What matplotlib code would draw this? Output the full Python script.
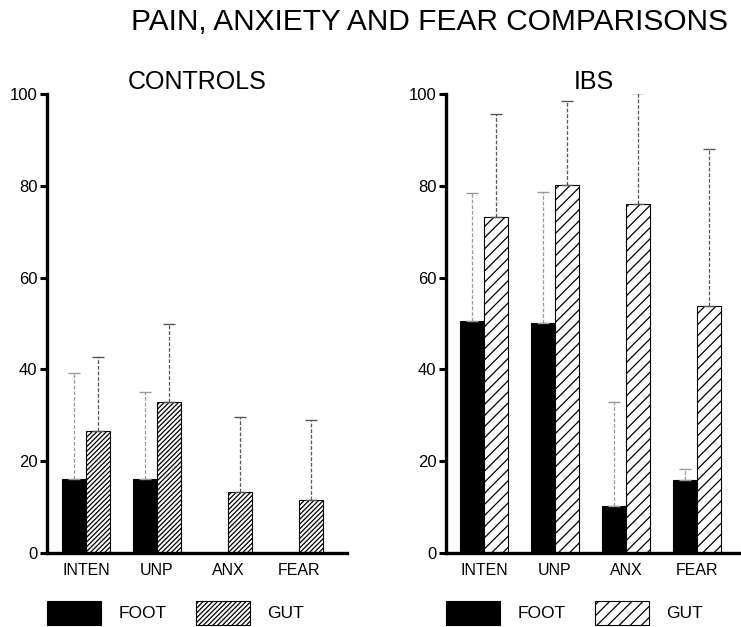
import numpy as np
import matplotlib.pyplot as plt

plt.rcParams['font.family'] = ['Liberation Sans', 'DejaVu Sans']

categories = ["INTEN", "UNP", "ANX", "FEAR"]

# controls: mean and upper end of error bar
ctrl_foot = [16.2, 16.2, 0.0, 0.0]
ctrl_foot_err = [39.2, 35.1, 0.0, 0.0]
ctrl_gut = [26.6, 32.8, 13.3, 11.6]
ctrl_gut_err = [42.7, 49.8, 29.7, 28.9]

# IBS
ibs_foot = [50.5, 50.2, 10.2, 16.0]
ibs_foot_err = [78.4, 78.6, 32.8, 18.4]
ibs_gut = [73.3, 80.1, 76.0, 53.8]
ibs_gut_err = [95.6, 98.5, 100.2, 88.1]

fig = plt.figure(figsize=(7.41, 6.27), dpi=100)
ax1 = fig.add_axes([0.0634, 0.118, 0.405, 0.732])
ax2 = fig.add_axes([0.602, 0.118, 0.398, 0.732])

x = np.arange(len(categories))
w = 0.34
plt.rcParams['hatch.linewidth'] = 0.9


def panel(ax, foot, foot_top, gut, gut_top, hatch, xlim, title):
    foot = np.array(foot)
    gut = np.array(gut)
    ax.bar(x - w / 2, foot, w, color='black', edgecolor='black', linewidth=0.8, label='FOOT')
    ax.bar(x + w / 2, gut, w, color='white', edgecolor='black', linewidth=0.8,
           hatch=hatch, label='GUT')
    fe = np.clip(np.array(foot_top) - foot, 0, None)
    ge = np.clip(np.array(gut_top) - gut, 0, None)
    m = fe > 0
    eb = ax.errorbar((x - w / 2)[m], foot[m], yerr=[np.zeros(m.sum()), fe[m]], fmt='none',
                     ecolor='#9a9a9a', elinewidth=0.9, capsize=4, capthick=1.0, zorder=1)
    eb[2][0].set_linestyle((0, (3, 1.5)))
    eb = ax.errorbar(x + w / 2, gut, yerr=[np.zeros(len(gut)), ge], fmt='none',
                     ecolor='#555555', elinewidth=0.9, capsize=4, capthick=1.0, zorder=1)
    eb[2][0].set_linestyle((0, (3, 1.5)))
    ax.set_ylim(0, 100)
    ax.set_xlim(*xlim)
    ax.set_yticks([0, 20, 40, 60, 80, 100])
    ax.set_xticks(x)
    ax.set_xticklabels(categories)
    for s in ['top', 'right']:
        ax.spines[s].set_visible(False)
    for s in ['left', 'bottom']:
        ax.spines[s].set_linewidth(2.4)
    ax.tick_params(axis='y', length=5, width=2.2, labelsize=12, pad=2)
    ax.tick_params(axis='x', length=0, labelsize=11.5, pad=7)
    ax.set_title(title, fontsize=18, pad=-2)
    ax.legend(ncol=2, frameon=False, loc='upper left', bbox_to_anchor=(0.0, -0.104),
              handlelength=3.1, handleheight=1.75, handletextpad=1.0, columnspacing=1.7,
              fontsize=12.5, borderaxespad=0, borderpad=0)


panel(ax1, ctrl_foot, ctrl_foot_err, ctrl_gut, ctrl_gut_err, '///////', (-0.55, 3.68), "CONTROLS")
panel(ax2, ibs_foot, ibs_foot_err, ibs_gut, ibs_gut_err, '///', (-0.535, 3.62), "IBS")

fig.text(0.579, 0.965, "PAIN, ANXIETY AND FEAR COMPARISONS", ha='center', va='center', fontsize=21.5)

fig.savefig("out.png", dpi=100)
